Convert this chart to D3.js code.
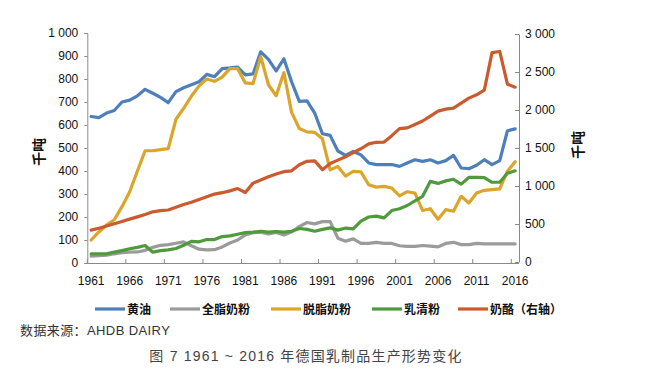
<!DOCTYPE html>
<html>
<head>
<meta charset="utf-8">
<script src="https://cdn.jsdelivr.net/npm/d3@7"></script>
<style>
  html, body { margin: 0; padding: 0; background: #fff; }
  svg { display: block; }
  text { font-family: "Liberation Sans", Arial, "Noto Sans CJK SC", sans-serif; }
</style>
</head>
<body>
<svg id="chart" width="658" height="369"></svg>
<script>
// ---------- data ----------
const years = d3.range(1961, 2017);
const labelYears = [1961, 1966, 1971, 1976, 1981, 1986, 1991, 1996, 2001, 2006, 2011, 2016];
const leftTicks = [0, 100, 200, 300, 400, 500, 600, 700, 800, 900, 1000];
const rightTicks = [0, 500, 1000, 1500, 2000, 2500, 3000];

const butter = [637, 632, 652, 663, 700, 708, 727, 755, 738, 720, 697, 745, 762, 775, 788, 820, 810, 845, 848, 852,
  818, 822, 918, 885, 835, 888, 788, 703, 705, 652, 562, 555, 487, 468, 485, 470, 435, 428, 428, 428,
  420, 435, 449, 442, 449, 435, 445, 468, 413, 410, 425, 449, 428, 445, 575, 583];
const wholeMilkPowder = [30, 32, 34, 40, 45, 47, 48, 55, 68, 77, 80, 86, 92, 75, 60, 57, 58, 70, 87, 100,
  122, 132, 134, 126, 133, 122, 135, 158, 176, 170, 180, 180, 108, 95, 105, 85, 85, 90, 85, 85,
  75, 72, 72, 76, 73, 70, 85, 90, 80, 80, 85, 83, 83, 83, 83, 83];
const skimMilkPowder = [100, 135, 165, 188, 245, 310, 400, 488, 488, 493, 497, 625, 672, 725, 770, 800, 790, 808, 845, 845,
  783, 780, 897, 775, 727, 828, 655, 585, 570, 568, 540, 405, 420, 378, 398, 396, 340, 330, 333, 326,
  292, 310, 304, 228, 236, 190, 232, 225, 290, 261, 304, 316, 319, 322, 399, 440];
const wheyPowder = [40, 40, 40, 47, 54, 62, 68, 76, 47, 54, 57, 63, 77, 94, 92, 102, 102, 115, 118, 125,
  132, 134, 138, 134, 137, 134, 138, 150, 146, 138, 146, 153, 143, 152, 148, 182, 200, 204, 196, 228,
  236, 250, 270, 290, 355, 346, 357, 364, 343, 372, 372, 371, 351, 351, 390, 401];
const cheese = [420, 444, 474, 504, 534, 564, 594, 624, 660, 675, 684, 720, 756, 786, 822, 858, 894, 912, 936, 966,
  915, 1038, 1080, 1122, 1158, 1188, 1200, 1280, 1325, 1330, 1215, 1295, 1340, 1385, 1440, 1490, 1555, 1575, 1578, 1662,
  1755, 1765, 1810, 1855, 1920, 1985, 2012, 2025, 2090, 2156, 2200, 2260, 2755, 2770, 2340, 2300];

const seriesNames = ["黄油", "全脂奶粉", "脱脂奶粉", "乳清粉", "奶酪（右轴）"];
const seriesColors = ["#4f7fba", "#9b9b9b", "#dba52b", "#4f9a3d", "#cc5a2f"];
const seriesData = [butter, wholeMilkPowder, skimMilkPowder, wheyPowder, cheese];
const seriesAxis = ["left", "left", "left", "left", "right"];

// ---------- layout ----------
const svg = d3.select("#chart");
const plot = { left: 87.3, right: 519, top: 33, bottom: 263 };
const axisColor = "#8a8a8a";

const x = d3.scaleBand().domain(years).range([plot.left, plot.right]);
const xc = d => x(d) + x.bandwidth() / 2;
const yL = d3.scaleLinear().domain([0, 1000]).range([plot.bottom, plot.top]);
const yR = d3.scaleLinear().domain([0, 3000]).range([plot.bottom - 1, plot.top + 1]);

const fmt = v => d3.format(",")(v).replace(/,/g, " ");

// left axis
const gL = svg.append("g").attr("transform", `translate(${plot.left},0)`)
  .call(d3.axisLeft(yL).tickValues(leftTicks).tickSize(3).tickPadding(6).tickFormat(fmt));
// right axis
const gR = svg.append("g").attr("transform", `translate(${plot.right},0)`)
  .call(d3.axisRight(yR).tickValues(rightTicks).tickSize(0).tickPadding(6).tickFormat(fmt));
gR.selectAll(".tick").append("line").attr("x1", -4).attr("x2", 0).attr("stroke", axisColor);
// bottom axis labels
const gB = svg.append("g").attr("transform", `translate(0,${plot.bottom})`)
  .call(d3.axisBottom(x).tickValues(labelYears).tickSize(0).tickPadding(13));
gB.select(".domain").remove();
// bottom tick marks at category boundaries
const tickYears = labelYears;
svg.append("g").selectAll("line").data(tickYears).join("line")
  .attr("x1", d => x(d)).attr("x2", d => x(d))
  .attr("y1", plot.bottom - 4).attr("y2", plot.bottom)
  .attr("stroke", axisColor);
svg.append("line").attr("x1", plot.left).attr("x2", plot.right)
  .attr("y1", plot.bottom + 0.5).attr("y2", plot.bottom + 0.5).attr("stroke", axisColor);

[gL, gR, gB].forEach(g => {
  g.selectAll(".domain").attr("stroke", axisColor);
  g.selectAll(".tick line").attr("stroke", axisColor);
  g.selectAll("text").attr("font-size", 12).attr("fill", "#111")
    .attr("font-family", "'Liberation Sans', Arial, sans-serif");
});

// axis titles
svg.append("text").attr("transform", "translate(44,152) rotate(-90)")
  .attr("text-anchor", "middle").attr("font-size", 14).attr("font-weight", "bold").attr("fill", "#111")
  .attr("font-family", "'Noto Sans CJK SC', sans-serif").text("千吨");
svg.append("text").attr("transform", "translate(583,145) rotate(-90)")
  .attr("text-anchor", "middle").attr("font-size", 14).attr("font-weight", "bold").attr("fill", "#111")
  .attr("font-family", "'Noto Sans CJK SC', sans-serif").text("千吨");

// lines
seriesData.forEach((vals, k) => {
  const ys = seriesAxis[k] === "left" ? yL : yR;
  const line = d3.line().x((d, i) => xc(years[i])).y(d => ys(d));
  svg.append("path").datum(vals)
    .attr("d", line)
    .attr("fill", "none")
    .attr("stroke", seriesColors[k])
    .attr("stroke-width", 3.2)
    .attr("stroke-linejoin", "round")
    .attr("stroke-linecap", "round");
});

// legend
const legendX = [95, 170, 271, 372, 458];
const lg = svg.append("g");
seriesNames.forEach((name, k) => {
  lg.append("line").attr("x1", legendX[k]).attr("x2", legendX[k] + 30)
    .attr("y1", 309).attr("y2", 309)
    .attr("stroke", seriesColors[k]).attr("stroke-width", 3.2);
  lg.append("text").attr("x", legendX[k] + 32).attr("y", 313.5)
    .attr("font-size", 12).attr("font-weight", "bold").attr("fill", "#111")
    .attr("font-family", "'Noto Sans CJK SC', sans-serif").text(name);
});

// source & caption
svg.append("text").attr("x", 20).attr("y", 335)
  .attr("font-size", 13).attr("fill", "#333").attr("letter-spacing", 0.4)
  .attr("font-family", "'Noto Sans CJK SC', sans-serif").text("数据来源：AHDB DAIRY");
svg.append("text").attr("x", 306).attr("y", 361).attr("text-anchor", "middle")
  .attr("font-size", 14).attr("fill", "#444").attr("letter-spacing", 1.2)
  .attr("font-family", "'Noto Sans CJK SC', sans-serif").text("图 7 1961 ~ 2016 年德国乳制品生产形势变化");
</script>
</body>
</html>
